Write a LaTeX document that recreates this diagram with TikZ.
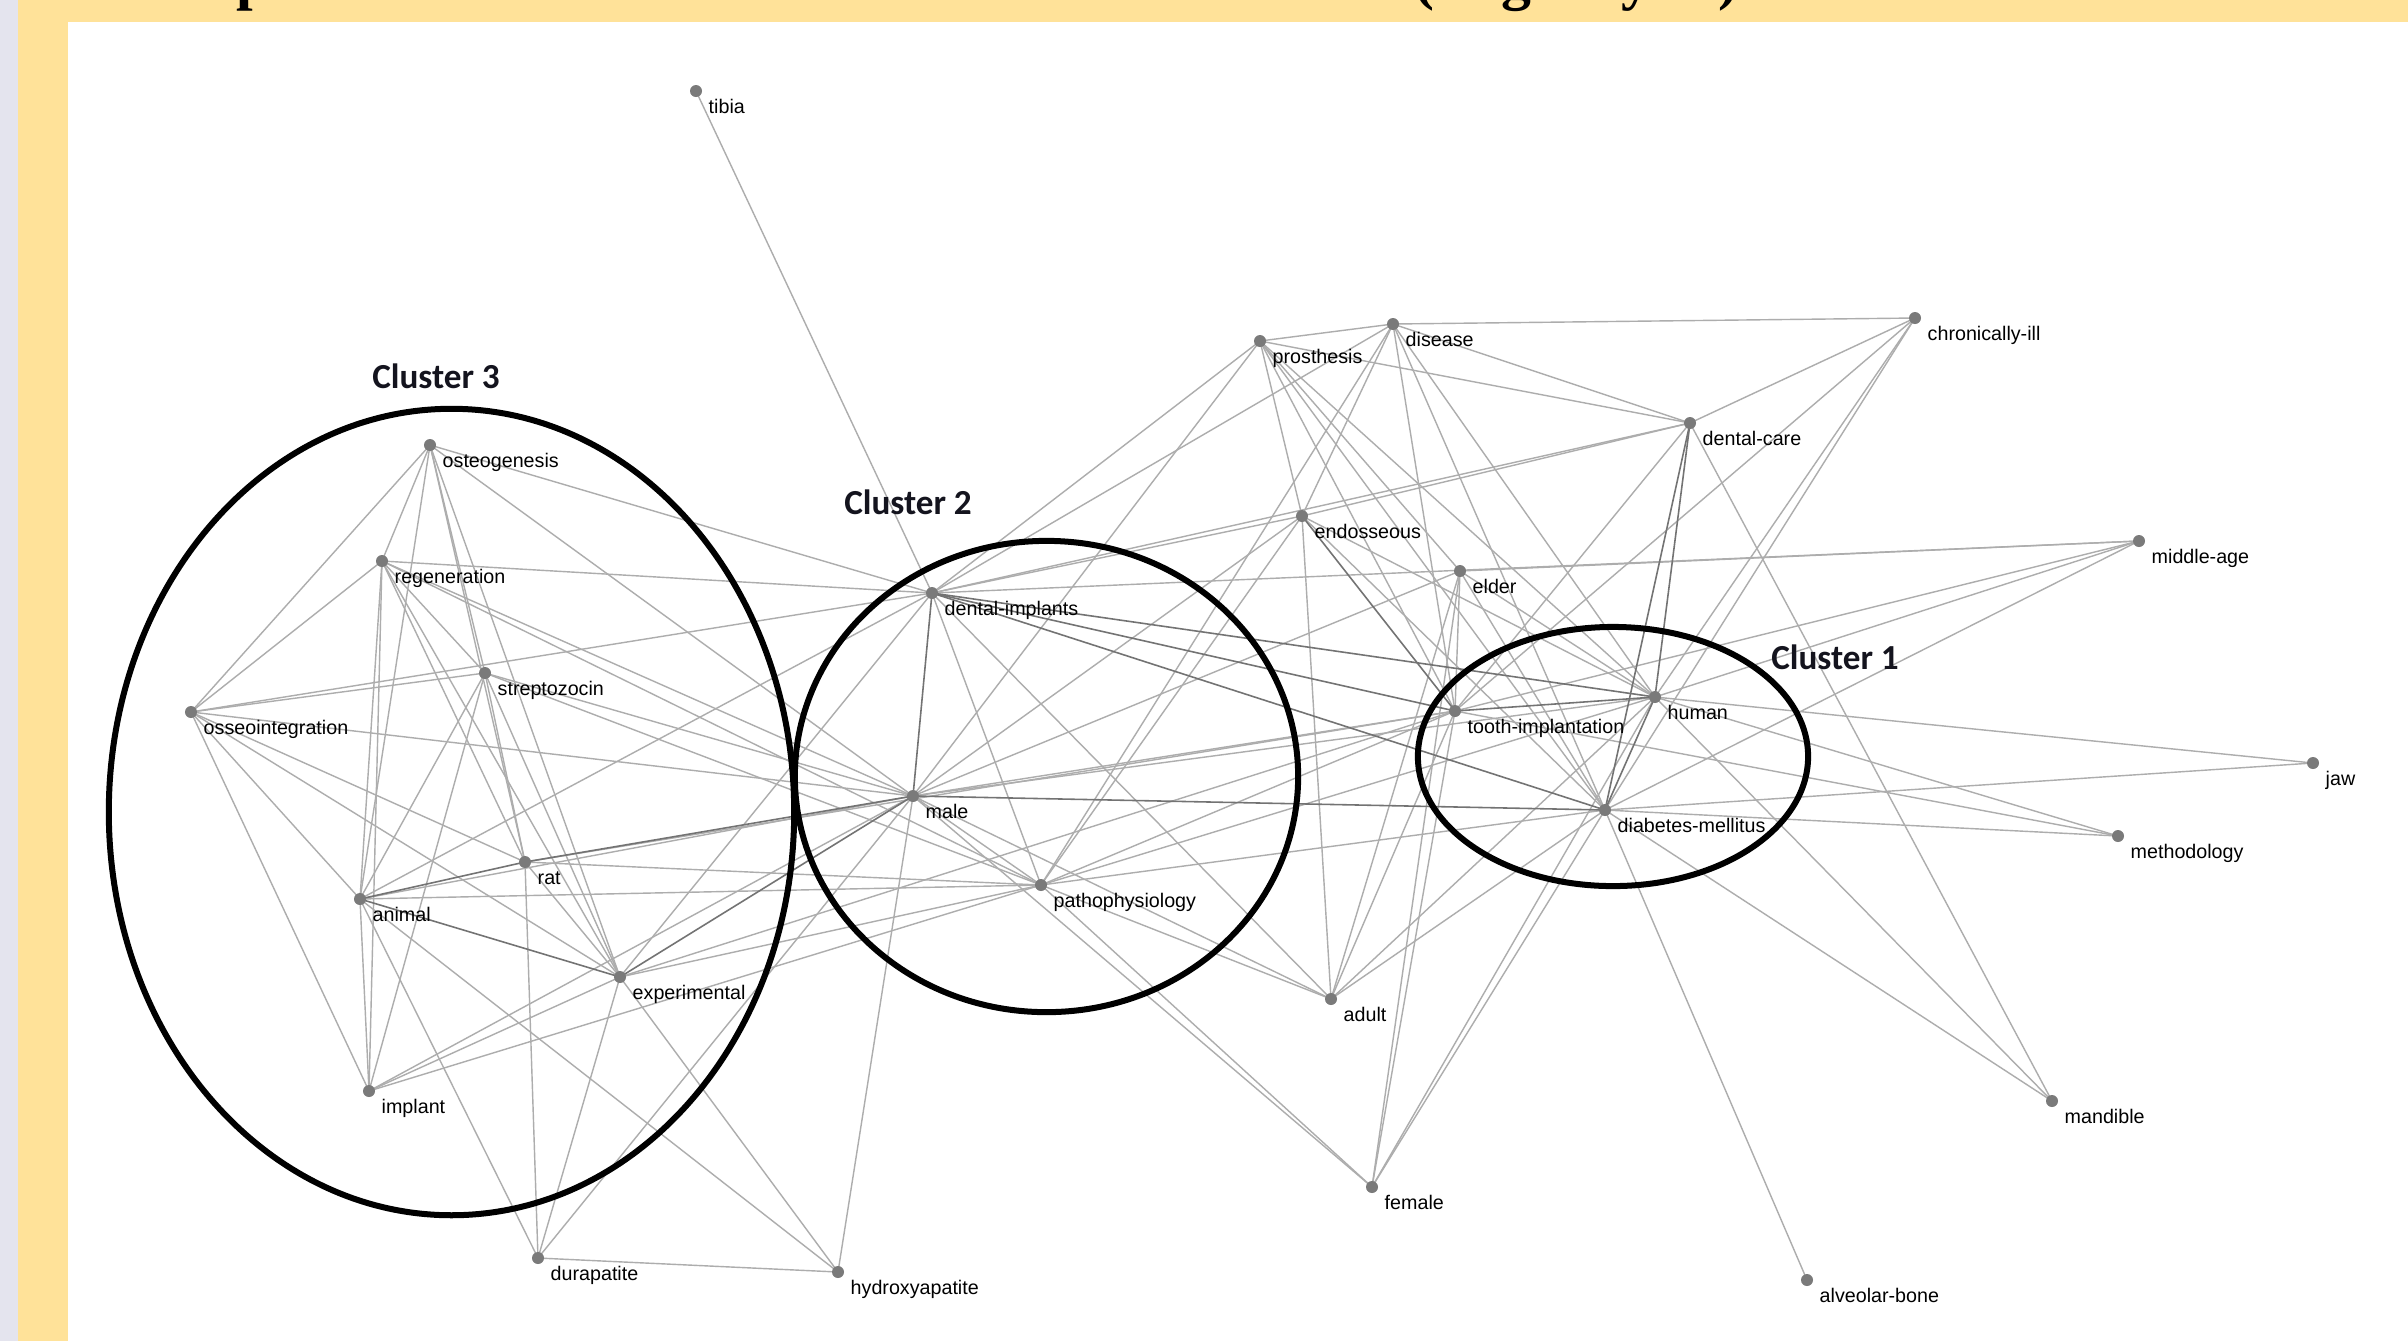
\documentclass[tikz,border=0pt]{standalone}
\usepackage{fontspec}
\setmainfont{Liberation Sans}
\newfontfamily\clfont{Carlito}
\newfontfamily\ttlfont{Liberation Serif}
\definecolor{banner}{HTML}{FFE299}
\definecolor{lav}{HTML}{E4E4EE}
\definecolor{dotgray}{HTML}{7A7A7A}
\definecolor{clink}{HTML}{14141E}
\tikzset{
  edge/.style={draw=black!32, line width=0.4pt},
  darkedge/.style={draw=black!55, line width=0.45pt},
  kwdot/.style={circle, fill=dotgray, inner sep=0pt, minimum size=0.12cm},
  kwlbl/.style={anchor=base west, inner sep=0pt, font=\fontsize{5.6pt}{6.5pt}\selectfont},
  clus/.style={draw=black, line width=0.06cm},
  cluslbl/.style={inner sep=0pt, text=clink, font=\clfont\bfseries\fontsize{10pt}{12pt}\selectfont},
  ttl/.style={anchor=base, inner sep=0pt, font=\ttlfont\bfseries\fontsize{17pt}{20pt}\selectfont}
}
\begin{document}
\begin{tikzpicture}[x=0.01cm,y=-0.01cm]
\useasboundingbox (0,0) rectangle (2408,1341);
% frame
\fill[banner] (0,0) rectangle (2408,1341);
\fill[lav] (0,0) rectangle (18,1341);
\fill[white] (68,22) rectangle (2408,1341);
% cut-off title fragments (only their lower parts show in the banner)
\begin{scope}
\clip (18,0) rectangle (2408,22);
\foreach \gx/\gc in {253/p,1424/(,1516/g,1636/y,1728/)}{
  \node[ttl, text=black] at (\gx,-2) {\gc};
}
\end{scope}
% keyword positions
\coordinate (ti) at (696,91);
\coordinate (og) at (430,445);
\coordinate (rg) at (382,561);
\coordinate (st) at (485,673);
\coordinate (oi) at (191,712);
\coordinate (rt) at (525,862);
\coordinate (an) at (360,899);
\coordinate (ex) at (620,977);
\coordinate (im) at (369,1091);
\coordinate (du) at (538,1258);
\coordinate (hy) at (838,1272);
\coordinate (di) at (932,593);
\coordinate (ma) at (913,796);
\coordinate (pa) at (1041,885);
\coordinate (pr) at (1260,341);
\coordinate (ds) at (1393,324);
\coordinate (ci) at (1915,318);
\coordinate (dc) at (1690,423);
\coordinate (en) at (1302,516);
\coordinate (el) at (1460,571);
\coordinate (mi) at (2139,541);
\coordinate (tm) at (1455,711);
\coordinate (hu) at (1655,697);
\coordinate (dm) at (1605,810);
\coordinate (ja) at (2313,763);
\coordinate (me) at (2118,836);
\coordinate (ad) at (1331,999);
\coordinate (fe) at (1372,1187);
\coordinate (mn) at (2052,1101);
\coordinate (ab) at (1807,1280);
% light links
\foreach \a/\b in {ti/di,
 og/oi, og/rg, og/an, og/st, og/rt, og/ex, og/ma, og/di,
 rg/oi, rg/an, rg/st, rg/rt, rg/ex, rg/im, rg/di, rg/pa, rg/ma,
 st/oi, st/ex, st/im, st/ma, st/pa, st/an, st/rt,
 oi/an, oi/rt, oi/ex, oi/im, oi/ma, oi/di,
 an/im, an/du, an/hy, an/pa, an/ma,
 rt/du, rt/ex, rt/pa, rt/tm,
 ex/im, ex/du, ex/hy, ex/pa, ex/di, ex/tm,
 im/pa, im/ma,
 du/hy, du/ma, hy/ma,
 di/pa, di/en, di/dc, di/mi, di/pr, di/ds, di/ad, di/an,
 ma/pa, ma/tm, ma/hu, ma/pr, ma/en, ma/el, ma/ad, ma/fe,
 pa/en, pa/ds, pa/fe, pa/ad, pa/tm, pa/hu, pa/dm,
 pr/ds, pr/en, pr/tm, pr/hu, pr/dm, pr/el, pr/dc,
 ds/ci, ds/dc, ds/en, ds/tm, ds/hu, ds/dm,
 en/dc, en/hu, en/dm, en/ad,
 el/tm, el/hu, el/dm, el/mi, el/ad, el/fe,
 tm/ad, tm/fe, tm/mi, tm/ci, tm/me, tm/dc,
 hu/ci, hu/mi, hu/ja, hu/me, hu/ad, hu/fe, hu/mn,
 dm/ci, dm/mi, dm/ja, dm/me, dm/mn, dm/ab, dm/ad, dm/fe,
 dc/ci, dc/mn}
 \draw[edge] (\a) -- (\b);
% darker links
\foreach \a/\b in {di/ma, di/tm, di/dm, di/hu, en/tm, tm/hu, hu/dm, dc/hu, dc/dm,
 ma/dm, an/rt, an/ex, rt/ma, ex/ma}
 \draw[darkedge] (\a) -- (\b);
% cluster outlines
\draw[clus] (451.5,812) ellipse [x radius=3.425cm, y radius=4.03cm];
\draw[clus] (1046.5,776.5) ellipse [x radius=2.515cm, y radius=2.355cm];
\draw[clus] (1613,756.5) ellipse [x radius=1.95cm, y radius=1.295cm];
\node[cluslbl] (c3) at (436,376) {Cluster 3};
\node[cluslbl] (c2) at (908,502) {Cluster 2};
\node[cluslbl] (c1) at (1835,657) {Cluster 1};
% keyword dots and labels
\foreach \n/\t in {ti/tibia, og/osteogenesis, rg/regeneration, st/streptozocin,
 oi/osseointegration, rt/rat, an/animal, ex/experimental, im/implant,
 du/durapatite, hy/hydroxyapatite, di/dental-implants, ma/male,
 pa/pathophysiology, pr/prosthesis, ds/disease, ci/chronically-ill,
 dc/dental-care, en/endosseous, el/elder, mi/middle-age,
 tm/tooth-implantation, hu/human, dm/diabetes-mellitus, ja/jaw,
 me/methodology, ad/adult, fe/female, mn/mandible, ab/alveolar-bone}{
 \node[kwdot] (\n d) at (\n) {};
 \node[kwlbl] (\n l) at ([xshift=0.12cm, yshift=-0.22cm]\n) {\t};
}
\end{tikzpicture}
\end{document}
